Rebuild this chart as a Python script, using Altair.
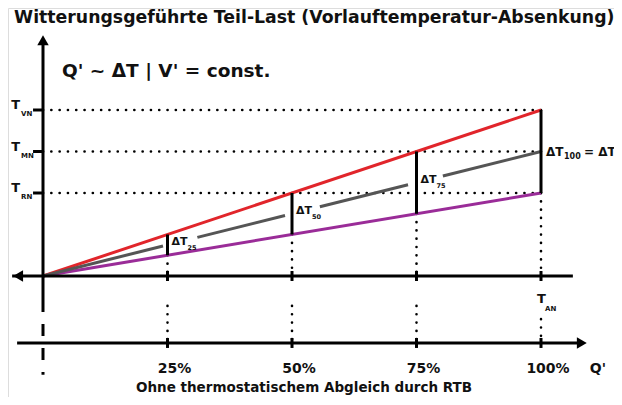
import altair as alt
import pandas as pd

# ---------------- data ----------------
q_levels = [0.25, 0.50, 0.75, 1.00]
q_labels = ["25%", "50%", "75%", "100%"]
t_names = ["VN", "MN", "RN"]
t_values = [2.0, 1.5, 1.0]          # T_VN, T_MN, T_RN (relative)
red_end = 2.0                        # Vorlauf (VN)
gray_end = 1.5                       # Mittel (MN)
purple_end = 1.0                     # Ruecklauf (RN)
gray_seg_start = [0.0, 0.31, 0.556, 0.803]
gray_seg_end = [0.241, 0.486, 0.733, 1.0]
dt_subs = ["25", "50", "75", "100"]

title = "Witterungsgeführte Teil-Last (Vorlauftemperatur-Absenkung)"
subtitle = "Q' ~ ΔT | V' = const."
bottom = "Ohne thermostatischem Abgleich durch RTB"

# ---------------- layout ----------------
W, H = 606, 389
PX_Q, X0 = 498, 35
PX_T, Y0 = 83, 268
xdom = [-X0 / PX_Q, (W - X0) / PX_Q]
ydom = [(Y0 - H) / PX_T, Y0 / PX_T]
FONT = "DejaVu Sans"

ax_left = -0.062
upper_right = 1.064
lower_right = 1.094
lower_y = -0.807
vert_top = 2.90
vert_bottom = -0.29
vert_dash_bottom = -1.19

X = alt.X("x:Q", scale=alt.Scale(domain=xdom, nice=False, zero=False), axis=None)
Y = alt.Y("y:Q", scale=alt.Scale(domain=ydom, nice=False, zero=False), axis=None)
X2 = alt.X2("x2:Q")
Y2 = alt.Y2("y2:Q")


def segs(rows):
    return pd.DataFrame(rows, columns=["x", "y", "x2", "y2"])


def rule(df, color="black", width=3, dash=None, cap="butt"):
    kw = dict(color=color, strokeWidth=width, strokeCap=cap)
    if dash is not None:
        kw["strokeDash"] = dash
    return alt.Chart(df).mark_rule(**kw).encode(x=X, y=Y, x2=X2, y2=Y2)


layers = []

# dotted guides
dot = [0.1, 8.2]
dots_h = segs([[0, v, 1.0, v] for v in t_values])
dots_v_up = segs([[q, q * purple_end, q, 0] for q in q_levels])
dots_v_low = segs([[q, (-0.36 if q < 1 else -0.52), q, lower_y] for q in q_levels])
layers.append(rule(dots_h, width=2.6, dash=dot, cap="round"))
layers.append(rule(dots_v_up, width=2.6, dash=dot, cap="round"))
layers.append(rule(dots_v_low, width=2.6, dash=dot, cap="round"))

# main lines
layers.append(rule(segs([[0, 0, 1.0, red_end]]), color="#e1252b", width=3))
layers.append(rule(segs([[0, 0, 1.0, purple_end]]), color="#9a2c98", width=3))
layers.append(rule(segs([[s, s * gray_end, e, e * gray_end]
                         for s, e in zip(gray_seg_start, gray_seg_end)]),
                   color="#555555", width=3))

# delta-T verticals
layers.append(rule(segs([[q, q * purple_end, q, q * red_end] for q in q_levels]), width=3))

# axes
layers.append(rule(segs([[ax_left, 0, upper_right, 0]]), width=3))
layers.append(rule(segs([[ax_left + 0.01, lower_y, lower_right - 0.01, lower_y]]), width=3))
layers.append(rule(segs([[0, vert_bottom, 0, vert_top - 0.05]]), width=3))
layers.append(rule(segs([[0, vert_bottom, 0, vert_dash_bottom]]), width=3, dash=[12, 12]))
# ticks
layers.append(rule(segs([[q, -0.06, q, 0.06] for q in q_levels]), width=3))
layers.append(rule(segs([[q, lower_y - 0.06, q, lower_y + 0.06] for q in q_levels]), width=3))
layers.append(rule(segs([[-0.02, v, 0, v] for v in t_values]), width=3))

# arrow heads
arrows = pd.DataFrame({
    "x": [0, ax_left + 0.012, lower_right - 0.012],
    "y": [vert_top - 0.06, 0, lower_y],
    "shape": ["triangle-up", "triangle-left", "triangle-right"],
})
for _, r in arrows.iterrows():
    layers.append(alt.Chart(pd.DataFrame([r])).mark_point(
        shape=r["shape"], filled=True, color="black", opacity=1, size=130
    ).encode(x=X, y=Y))


def text(df, size, align="left", dx=0, dy=0, baseline="middle"):
    return alt.Chart(df).mark_text(
        font=FONT, fontWeight="bold", fontSize=size, align=align, dx=dx, dy=dy,
        baseline=baseline, color="#111111"
    ).encode(x=X, y=Y, text="t:N")


# titles
layers.append(text(pd.DataFrame({"x": [ax_left + 0.004], "y": [ydom[1]], "t": [title]}),
                   17.3, dy=10))
layers.append(text(pd.DataFrame({"x": [0], "y": [vert_top], "t": [subtitle]}),
                   18.5, dx=19, dy=36))
layers.append(text(pd.DataFrame({"x": [0.5], "y": [lower_y], "t": [bottom]}),
                   13.5, align="center", dx=12, dy=45))

# T labels on vertical axis
tv = pd.DataFrame({"x": [0] * 3, "y": t_values, "t": ["T"] * 3})
layers.append(text(tv, 13, align="right", dx=-23, dy=-5))
layers.append(text(pd.DataFrame({"x": [0] * 3, "y": t_values, "t": t_names}), 7, dx=-22, dy=4))

# T_AN
layers.append(text(pd.DataFrame({"x": [1.0], "y": [0], "t": ["T"]}), 13, dx=-4, dy=23))
layers.append(text(pd.DataFrame({"x": [1.0], "y": [0], "t": ["AN"]}), 7, dx=4, dy=33))

# percent labels
layers.append(text(pd.DataFrame({"x": q_levels, "y": [lower_y] * 4, "t": q_labels}),
                   14, align="center", dx=7, dy=26))
layers.append(text(pd.DataFrame({"x": [lower_right], "y": [lower_y], "t": ["Q'"]}),
                   14, dx=2, dy=26))

# delta T labels
small_q = q_levels[:3]
layers.append(text(pd.DataFrame({"x": small_q, "y": [q * gray_end for q in small_q],
                                 "t": ["ΔT"] * 3}), 11, dx=4, dy=-3))
layers.append(text(pd.DataFrame({"x": small_q, "y": [q * gray_end for q in small_q],
                                 "t": dt_subs[:3]}), 6.5, dx=20, dy=3))
layers.append(text(pd.DataFrame({"x": [1.0], "y": [gray_end], "t": ["ΔT"]}), 12, dx=5, dy=0))
layers.append(text(pd.DataFrame({"x": [1.0], "y": [gray_end], "t": [dt_subs[3]]}), 8, dx=23, dy=5))
layers.append(text(pd.DataFrame({"x": [1.0], "y": [gray_end], "t": ["= ΔT"]}), 12, dx=43, dy=0))
layers.append(text(pd.DataFrame({"x": [1.0], "y": [gray_end], "t": ["MN"]}), 8, dx=75, dy=5))

chart = alt.layer(*layers).properties(
    width=W, height=H, padding=0, autosize=alt.AutoSizeParams(type="none")
).configure_view(stroke=None).configure(background="white")

chart.save("out.html", embed_options={"renderer": "svg", "actions": False})
